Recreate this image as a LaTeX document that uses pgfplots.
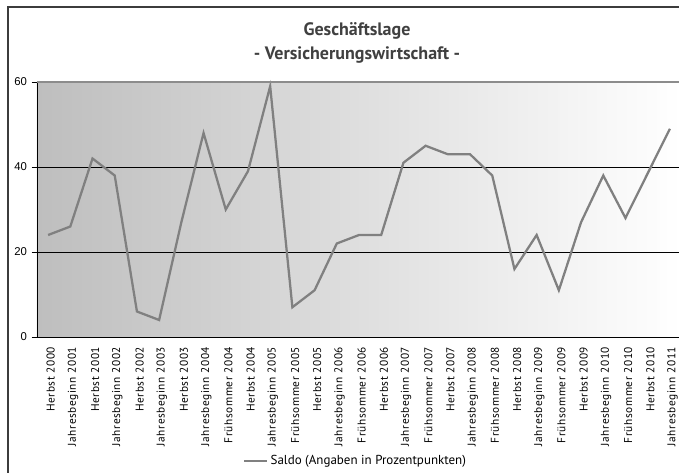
\documentclass[border=0pt]{standalone}
\usepackage{pgfplots}
\pgfplotsset{compat=1.18}
\usepackage{fontspec}
\setmainfont{PT Sans}
\newfontfamily\arial{Liberation Sans}
\newfontfamily\lbl[LetterSpace=5]{PT Sans}
\definecolor{linegray}{RGB}{128,128,128}
\definecolor{bgleft}{RGB}{190,190,190}
\definecolor{framegray}{RGB}{60,60,60}
\begin{document}
\begin{tikzpicture}
\useasboundingbox (0,0) rectangle (509.25pt,354pt);
\clip (0,0) rectangle (509.25pt,354pt);
\draw[framegray, line width=1.5pt] (5.625pt,-5pt) -- (5.625pt,348.4pt) -- (520pt,348.4pt);
\node[font=\bfseries\fontsize{13.5}{16}\selectfont, text=black!75, align=center] at (267.75pt,322pt) {Geschäftslage\\[2pt]- Versicherungswirtschaft -};
\begin{axis}[
  at={(27.75pt,101.25pt)}, anchor=south west,
  scale only axis, width=483pt, height=191.25pt,
  xmin=-0.5, xmax=28.5, ymin=0, ymax=60,
  axis background/.style={left color=bgleft, right color=white},
  axis x line*=bottom, axis y line*=left,
  axis line style={black, line width=0.6pt},
  ytick={0,20,40,60},
  ymajorgrids, grid style={black, line width=0.6pt},
  yticklabel style={font=\arial\fontsize{8.5}{10}\selectfont, /pgf/number format/assume math mode=true},
  ytick style={black}, major tick length=4pt,
  tick align=outside,
  xtick={0,...,28},
  xtick style={draw=none},
  minor xtick={-0.5,0.5,...,28.5},
  minor tick length=4pt,
  minor x tick style={black},
  xticklabels={Herbst 2000, Jahresbeginn 2001, Herbst 2001, Jahresbeginn 2002, Herbst 2002, Jahresbeginn 2003, Herbst 2003, Jahresbeginn 2004, Frühsommer 2004, Herbst 2004, Jahresbeginn 2005, Frühsommer 2005, Herbst 2005, Jahresbeginn 2006, Frühsommer 2006, Herbst 2006, Jahresbeginn 2007, Frühsommer 2007, Herbst 2007, Jahresbeginn 2008, Frühsommer 2008, Herbst 2008, Jahresbeginn 2009, Frühsommer 2009, Herbst 2009, Jahresbeginn 2010, Frühsommer 2010, Herbst 2010, Jahresbeginn 2011},
  xticklabel style={rotate=90, anchor=east, font=\lbl\fontsize{8.5}{9}\selectfont, yshift=-2pt},
  clip=false,
  legend style={at={(axis description cs:0.495,-0.486)}, anchor=center, draw=none, fill=none, font=\fontsize{9.75}{11}\selectfont},
  legend cell align=left,
]
\addplot[linegray, line width=1.7pt] coordinates {
(0,24) (1,26) (2,42) (3,38) (4,6) (5,4) (6,27) (7,48) (8,30) (9,39) (10,59) (11,7) (12,11) (13,22) (14,24) (15,24) (16,41) (17,45) (18,43) (19,43) (20,38) (21,16) (22,24) (23,11) (24,27) (25,38) (26,28) (27,38.5) (28,49)
};
\addlegendentry{Saldo (Angaben in Prozentpunkten)}
\draw[black!45, line width=1pt] (axis cs:-0.5,60) -- (axis cs:28.5,60);
\end{axis}
\end{tikzpicture}
\end{document}
